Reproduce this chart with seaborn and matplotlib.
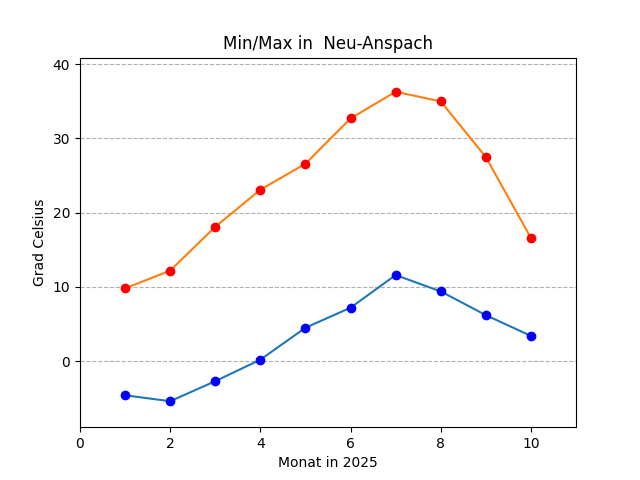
import matplotlib
matplotlib.use("Agg")
import matplotlib.pyplot as plt
import seaborn as sns

# Monatswerte 2025 (Jan - Okt)
monate = [1, 2, 3, 4, 5, 6, 7, 8, 9, 10]
temp_min = [-4.6, -5.4, -2.7, 0.2, 4.5, 7.2, 11.6, 9.4, 6.2, 3.4]
temp_max = [9.8, 12.2, 18.1, 23.1, 26.6, 32.7, 36.3, 35.0, 27.5, 16.6]

fig, ax = plt.subplots(figsize=(6.4, 4.8), dpi=100)

# Linien
sns.lineplot(x=monate, y=temp_min, color="C0", ax=ax)
sns.lineplot(x=monate, y=temp_max, color="C1", ax=ax)

# Punkte
sns.scatterplot(x=monate, y=temp_min, color="blue", s=36, edgecolor="blue", linewidth=1, zorder=3, ax=ax)
sns.scatterplot(x=monate, y=temp_max, color="red", s=36, edgecolor="red", linewidth=1, zorder=3, ax=ax)

ax.set_xlim(0, 11)
ax.set_ylim(-8.9, 40.9)
ax.grid(axis="y", linestyle="--")
ax.set_title("Min/Max in  Neu-Anspach")
ax.set_xlabel("Monat in 2025")
ax.set_ylabel("Grad Celsius")

fig.savefig("out.png")
